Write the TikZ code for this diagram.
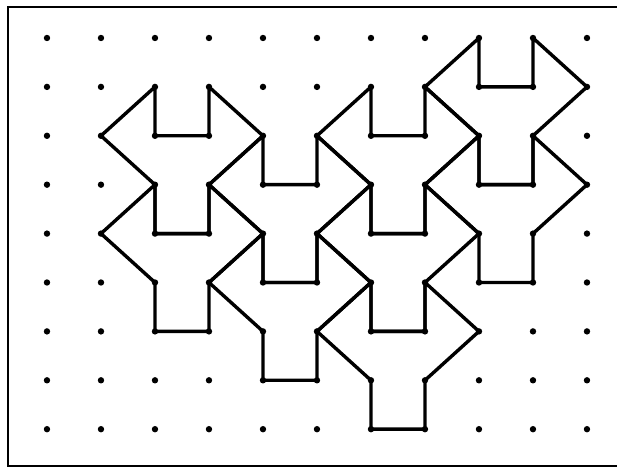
\documentclass[tikz,border=0pt]{standalone}
\usepackage{tikz}
\usetikzlibrary{positioning}
\tikzset{
  griddot/.style={circle, fill=black, draw=none, minimum size=6.4pt, inner sep=0pt},
  tileline/.style={draw=black, line width=3.4pt, line join=round, line cap=round},
  frameline/.style={draw=black, line width=2.3pt},
}

\begin{document}
\begin{tikzpicture}[x=54pt, y=48.9pt]
  % ── Fixed canvas (reference margins) ──
  \useasboundingbox (-0.870,0.777) rectangle (10.593,-8.896);

  % ── Frame: left, top and bottom edges (right edge runs off the scan) ──
  \draw[frameline] (10.55,0.634) -- (-0.722,0.634) -- (-0.722,-8.753) -- (10.55,-8.753);

  % ── Dot lattice: 11 columns, 9 rows ──
  \foreach \i in {0,...,10} {
    \foreach \j in {0,...,8} {
      \node[griddot] (d\i-\j) at (\i,-\j) {};
    }
  }

  % ── Y-shaped tiles, (a,b) = top of left arm ──
  \foreach \a/\b in {2/1, 2/3, 4/2, 4/4, 6/1, 6/3, 6/5, 8/0, 8/2} {
    \draw[tileline] (\a,-\b) -- ++(0,-1) -- ++(1,0) -- ++(0,1)
      -- ++(1,-1) -- ++(-1,-1) -- ++(0,-1) -- ++(-1,0) -- ++(0,1)
      -- ++(-1,1) -- cycle;
  }
\end{tikzpicture}
\end{document}
